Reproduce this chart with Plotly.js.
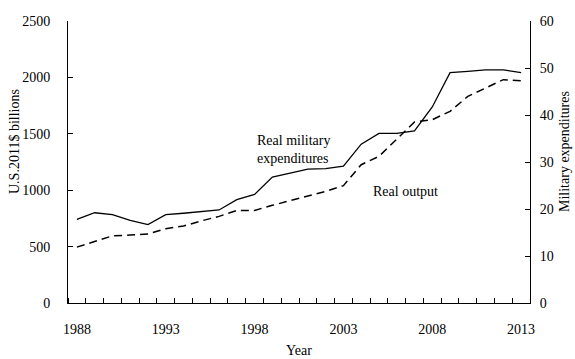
<!DOCTYPE html>
<html>
<head>
<meta charset="utf-8">
<script src="https://cdn.plot.ly/plotly-3.0.1.min.js"></script>
<style>html,body{margin:0;padding:0;background:#fff;}#chart{width:575px;height:359px;}</style>
</head>
<body>
<div id="chart"></div>
<script>
const years = [1988,1989,1990,1991,1992,1993,1994,1995,1996,1997,1998,1999,2000,2001,2002,2003,2004,2005,2006,2007,2008,2009,2010,2011,2012,2013];
// Military expenditures (right axis)
const militaryExp = [17.8,19.2,18.8,17.6,16.7,18.8,19.1,19.5,19.8,22.0,23.1,26.8,27.7,28.5,28.6,29.1,33.8,36.1,36.1,36.6,41.7,49.0,49.3,49.6,49.6,49.0];
// Real output, U.S.2011$ billions (left axis)
const realOutput = [495,548,595,603,612,659,682,728,768,821,821,866,908,953,990,1040,1226,1300,1450,1604,1625,1699,1832,1906,1980,1971];
const yearLabels = [1988,1993,1998,2003,2008,2013];
const leftTicks = [0,500,1000,1500,2000,2500];
const rightTicks = [0,10,20,30,40,50,60];

const FONT = 'Liberation Serif, Times New Roman, serif';

const traces = [
  {x: years, y: militaryExp, yaxis: 'y2', type: 'scatter', mode: 'lines',
   line: {color: '#000', width: 1.3}, name: 'Real military expenditures', hoverinfo: 'skip'},
  {x: years, y: realOutput, yaxis: 'y', type: 'scatter', mode: 'lines',
   line: {color: '#000', width: 1.5, dash: '8px,5px'}, name: 'Real output', hoverinfo: 'skip'}
];

const layout = {
  width: 575, height: 359,
  margin: {l: 68, r: 45, t: 21, b: 56},
  paper_bgcolor: '#fff', plot_bgcolor: '#fff',
  showlegend: false,
  font: {family: FONT, size: 14, color: '#000'},
  xaxis: {
    range: [1987.5, 2013.5], tickmode: 'array', tickvals: yearLabels, ticktext: yearLabels.map(String),
    ticks: '', showline: true, linecolor: '#000', linewidth: 1, showgrid: false, zeroline: false,
    ticklabelstandoff: 13,
    minor: {tick0: 1987.5, dtick: 1, ticks: 'inside', ticklen: 5, tickcolor: '#000', tickwidth: 1, showgrid: false}
  },
  yaxis: {
    range: [0, 2500], tickmode: 'array', tickvals: leftTicks, ticks: 'inside', ticklen: 5,
    tickcolor: '#000', showline: true, linecolor: '#000', linewidth: 1, showgrid: false, zeroline: false,
    ticklabelstandoff: 14
  },
  yaxis2: {
    range: [0, 60], tickmode: 'array', tickvals: rightTicks, ticks: 'inside', ticklen: 5,
    tickcolor: '#000', showline: true, linecolor: '#000', linewidth: 1, showgrid: false, zeroline: false,
    overlaying: 'y', side: 'right', ticklabelstandoff: 6
  },
  annotations: [
    {text: 'Real military<br>expenditures', xref: 'paper', yref: 'paper', x: 0.405, y: 0.61,
     xanchor: 'left', yanchor: 'top', align: 'left', showarrow: false, font: {size: 14}},
    {text: 'Real output', xref: 'paper', yref: 'paper', x: 0.655, y: 0.397,
     xanchor: 'left', yanchor: 'middle', showarrow: false, font: {size: 14}},
    {text: 'U.S.2011$ billions', xref: 'paper', yref: 'paper', x: (14-68)/462, y: (303-142)/282,
     xanchor: 'center', yanchor: 'middle', textangle: -90, showarrow: false, font: {size: 14}},
    {text: 'Military expenditures', xref: 'paper', yref: 'paper', x: (565-68)/462, y: (303-152)/282,
     xanchor: 'center', yanchor: 'middle', textangle: -90, showarrow: false, font: {size: 14}},
    {text: 'Year', xref: 'paper', yref: 'paper', x: 0.5, y: (303-350)/282,
     xanchor: 'center', yanchor: 'middle', showarrow: false, font: {size: 14}}
  ]
};

Plotly.newPlot('chart', traces, layout, {staticPlot: true, displayModeBar: false});
</script>
</body>
</html>
